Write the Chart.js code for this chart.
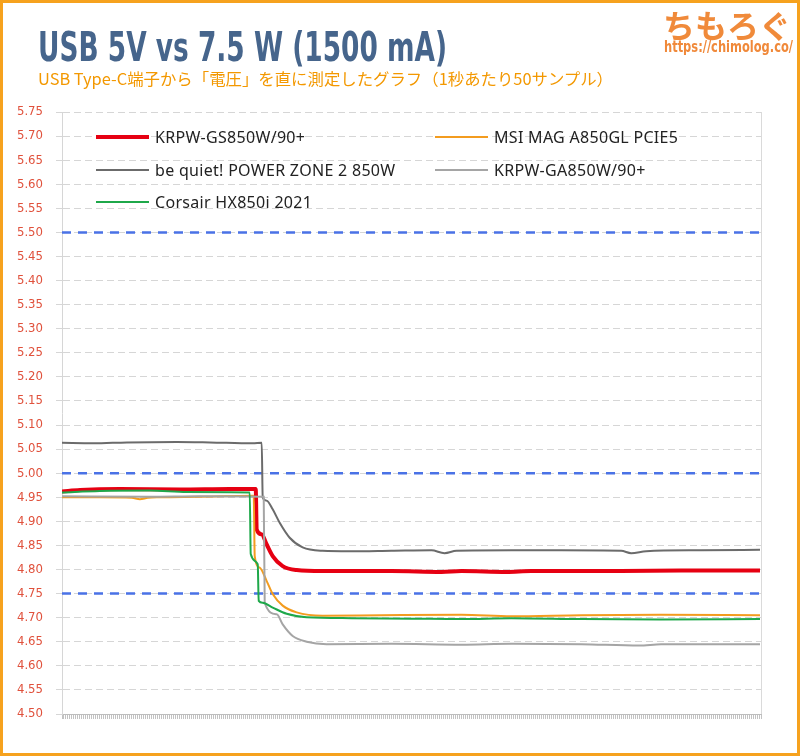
<!DOCTYPE html>
<html>
<head>
<meta charset="utf-8">
<script src="https://cdn.jsdelivr.net/npm/chart.js@4.4.1/dist/chart.umd.min.js"></script>
<style>
  html, body { margin: 0; padding: 0; background: #fff; }
  #wrap { position: relative; width: 800px; height: 756px; overflow: hidden; background: #fff; }
  #frame { position: absolute; left: 0; top: 0; width: 800px; height: 756px; box-sizing: border-box;
           border: 3px solid #f6a21e; pointer-events: none; }
  canvas { position: absolute; left: 0; top: 0; }
  .txt { position: absolute; white-space: nowrap; transform-origin: left top; }
  #title { left: 38px; top: 27px; font-family: 'DejaVu Sans Condensed', sans-serif; font-weight: bold;
           font-size: 41px; line-height: 41px; color: #46658c; }
  #subtitle { left: 38px; top: 70px; font-family: 'Noto Sans CJK JP', sans-serif; font-size: 16px;
              line-height: 16px; color: #f39800; }
  #logo { left: 663px; top: 8px; font-family: 'Noto Sans CJK JP', sans-serif; font-weight: bold;
          font-size: 32px; line-height: 32px; color: #f08a3a; }
  #url { left: 664px; top: 40px; font-family: 'DejaVu Sans Condensed', sans-serif; font-weight: bold;
         font-size: 15px; line-height: 15px; color: #f0893a; }
  .leg { position: absolute; height: 20px; font-family: 'Noto Sans', sans-serif; font-size: 16px;
         letter-spacing: 0.3px; color: #222; white-space: nowrap; }
  .leg i { position: absolute; left: 0; top: 50%; width: 53px; }
  .leg span { position: absolute; left: 59px; top: 0; line-height: 20px; }
</style>
</head>
<body>
<div id="wrap">
  <canvas id="chart" width="800" height="756"></canvas>
  <div id="title" class="txt">USB 5V vs 7.5 W (1500 mA)</div>
  <div id="subtitle" class="txt">USB Type-C端子から「電圧」を直に測定したグラフ（1秒あたり50サンプル）</div>
  <div id="logo" class="txt">ちもろぐ</div>
  <div id="url" class="txt">https://chimolog.co/</div>
  <div id="legend"></div>
  <div id="frame"></div>
</div>
<script>
const gsSamples = [0, 18, 58, 118, 168, 194, 195, 200, 205, 211, 221, 235, 261, 330, 380, 400, 445, 470, 560, 620, 699];
const gsVolts = [4.962, 4.965, 4.967, 4.966, 4.967, 4.967, 4.883, 4.873, 4.852, 4.828, 4.807, 4.799, 4.797, 4.797, 4.795, 4.797, 4.795, 4.797, 4.797, 4.798, 4.798];

const msiSamples = [0, 38, 70, 78, 86, 98, 138, 192, 193, 198, 205, 211, 221, 235, 261, 320, 400, 450, 520, 600, 699];
const msiVolts = [4.950, 4.950, 4.949, 4.946, 4.949, 4.950, 4.951, 4.953, 4.828, 4.804, 4.776, 4.749, 4.725, 4.711, 4.704, 4.705, 4.706, 4.703, 4.705, 4.706, 4.705];

const bqSamples = [0, 31, 65, 115, 148, 191, 200, 201, 205, 211, 218, 228, 241, 261, 288, 330, 370, 383, 395, 450, 500, 560, 570, 585, 640, 699];
const bqVolts = [5.063, 5.062, 5.064, 5.065, 5.064, 5.062, 5.063, 4.950, 4.943, 4.925, 4.897, 4.866, 4.846, 4.839, 4.838, 4.839, 4.840, 4.834, 4.839, 4.840, 4.840, 4.839, 4.834, 4.838, 4.840, 4.841];

const gaSamples = [0, 88, 138, 202, 203, 215, 221, 231, 245, 265, 330, 400, 450, 520, 578, 600, 699];
const gaVolts = [4.952, 4.951, 4.952, 4.951, 4.731, 4.707, 4.686, 4.662, 4.650, 4.645, 4.646, 4.644, 4.646, 4.645, 4.642, 4.645, 4.645];

const hxSamples = [0, 38, 88, 125, 188, 189, 196, 197, 201, 211, 225, 245, 290, 350, 400, 450, 520, 600, 699];
const hxVolts = [4.960, 4.963, 4.964, 4.961, 4.960, 4.832, 4.811, 4.735, 4.731, 4.721, 4.708, 4.701, 4.699, 4.698, 4.697, 4.699, 4.697, 4.696, 4.697];

const seriesNames = ['KRPW-GS850W/90+', 'MSI MAG A850GL PCIE5', 'be quiet! POWER ZONE 2 850W', 'KRPW-GA850W/90+', 'Corsair HX850i 2021'];
const seriesColors = ['#e60012', '#f39c1f', '#6b6b6b', '#a5a5a5', '#1ea84a'];
const seriesWidths = [4, 2, 2, 2, 2];
const seriesSamples = [gsSamples, msiSamples, bqSamples, gaSamples, hxSamples];
const seriesVolts = [gsVolts, msiVolts, bqVolts, gaVolts, hxVolts];

const refLevels = [5.50, 5.00, 4.75];
const sampleMax = 700;

const toPoints = (xs, ys) => xs.map((x, i) => ({ x: x, y: ys[i] }));

const datasets = seriesNames.map((name, i) => ({
    label: name,
    data: toPoints(seriesSamples[i], seriesVolts[i]),
    borderColor: seriesColors[i],
    borderWidth: seriesWidths[i],
    pointRadius: 0,
    cubicInterpolationMode: 'monotone',
    order: seriesNames.length - i  // later series on top, like the original
}));

// blue dashed reference levels
refLevels.forEach(v => {
    datasets.push({
        label: 'ref ' + v,
        data: [{ x: 0, y: v }, { x: sampleMax, y: v }],
        borderColor: '#4a72e6',
        borderWidth: 2.5,
        borderDash: [9, 7],
        pointRadius: 0,
        order: 20
    });
});

const rightEdge = {
    id: 'rightEdge',
    beforeDatasetsDraw(chart) {
        const { ctx, chartArea: a } = chart;
        ctx.save();
        ctx.strokeStyle = '#dadada';
        ctx.lineWidth = 1;
        ctx.beginPath();
        ctx.moveTo(Math.round(a.right) + 0.5, a.top);
        ctx.lineTo(Math.round(a.right) + 0.5, a.bottom);
        ctx.stroke();
        ctx.restore();
    }
};

new Chart(document.getElementById('chart').getContext('2d'), {
    type: 'line',
    data: { datasets: datasets },
    options: {
        responsive: false,
        animation: false,
        devicePixelRatio: 1,
        layout: { padding: { top: 112, right: 39, bottom: 0, left: 0 } },
        plugins: { legend: { display: false }, tooltip: { enabled: false } },
        scales: {
            x: {
                type: 'linear',
                min: 0,
                max: sampleMax,
                ticks: { display: false, stepSize: 2, autoSkip: false },
                grid: { drawOnChartArea: false, drawTicks: true, tickLength: 5, color: '#c2c2c2' },
                border: { color: '#bdbdbd' },
                afterFit: s => { s.height = 42; }
            },
            y: {
                min: 4.5,
                max: 5.75,
                ticks: {
                    stepSize: 0.05,
                    autoSkip: false,
                    padding: 13,
                    color: '#e0513c',
                    font: { family: "'Liberation Sans Narrow', 'DejaVu Sans Condensed', sans-serif", size: 13 },
                    callback: v => Number(v).toFixed(2)
                },
                grid: { color: '#d6d6d6', tickLength: 6, lineWidth: 1 },
                border: { color: '#d6d6d6', dash: [7, 4] },
                afterFit: s => { s.width = 62; }
            }
        }
    },
    plugins: [rightEdge]
});

// html legend in two columns, row by row
const legendCols = [96, 435];
const legendRows = [127, 160, 192];
const legendEl = document.getElementById('legend');
seriesNames.forEach((name, i) => {
    const item = document.createElement('div');
    item.className = 'leg';
    item.style.left = legendCols[i % 2] + 'px';
    item.style.top = legendRows[Math.floor(i / 2)] + 'px';
    const w = i === 0 ? 4 : 2.5;
    item.innerHTML = `<i style="height:${w}px;margin-top:${-w / 2}px;background:${seriesColors[i]}"></i><span>${name}</span>`;
    legendEl.appendChild(item);
});

// squeeze the condensed headline texts to the widths of the original
const fitWidth = (id, target) => {
    const el = document.getElementById(id);
    const w = el.getBoundingClientRect().width;
    el.style.transform = `scaleX(${target / w})`;
};
fitWidth('title', 409);
fitWidth('subtitle', 575);
fitWidth('url', 129);
</script>
</body>
</html>
